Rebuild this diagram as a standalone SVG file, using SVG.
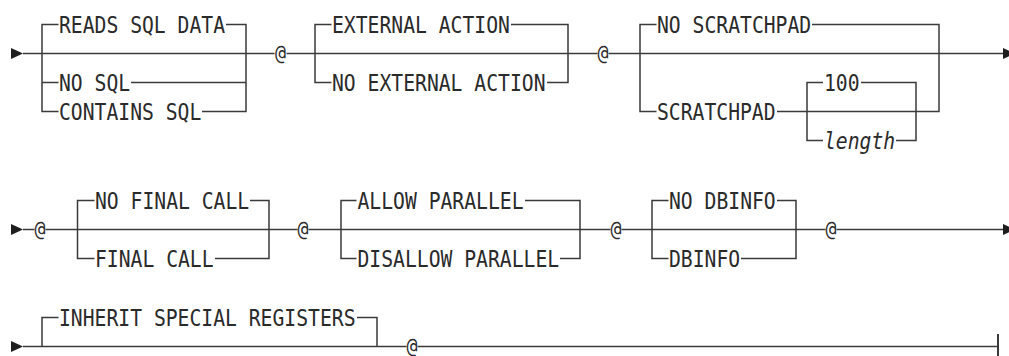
<svg xmlns="http://www.w3.org/2000/svg" width="1009" height="356" viewBox="0 0 1009 356">
<style>
.ln{stroke:#3a3a3a;stroke-width:1.5;fill:none}
.ar{fill:#1e1e1e;stroke:none}
.t{font-family:"DejaVu Sans Mono","Liberation Mono",monospace;font-size:23px;fill:#2a2a2a}
.i{font-style:italic}
.at{font-family:"DejaVu Sans Mono","Liberation Mono",monospace;font-size:22px;fill:#2a2a2a;text-anchor:middle}
</style>
<rect width="1009" height="356" fill="#ffffff"/>
<g id="connectors">
<path class="ln" d="M23,53.5 H274.5 M286.5,53.5 H597.5 M608.5,53.5 H1003"/>
<path class="ln" d="M58.5,24.5 H42 V111.5 H58.5 M42,82.5 H58.5"/>
<path class="ln" d="M226,24.5 H246 V111.5 H202 M131,82.5 H246"/>
<path class="ln" d="M331.5,24.5 H315 V82.5 H331.5"/>
<path class="ln" d="M511,24.5 H568 V82.5 H547"/>
<path class="ln" d="M656.5,24.5 H640 V111.5 H656.5"/>
<path class="ln" d="M812,24.5 H939 V111.5 H777"/>
<path class="ln" d="M823,82.5 H807 V140.5 H823"/>
<path class="ln" d="M861,82.5 H916 V140.5 H896"/>
<polygon class="ar" points="11,48 23,53.5 11,59"/>
<polygon class="ar" points="1003,48 1015,53.5 1003,59"/>
<path class="ln" d="M23,229.5 H34.5 M45.5,229.5 H297.5 M308.5,229.5 H610.5 M621.5,229.5 H825.5 M836.5,229.5 H1003"/>
<path class="ln" d="M94.5,200.5 H77.5 V258.5 H94.5"/>
<path class="ln" d="M250,200.5 H269 V258.5 H215"/>
<path class="ln" d="M356.5,200.5 H341 V258.5 H356.5"/>
<path class="ln" d="M525,200.5 H580 V258.5 H560"/>
<path class="ln" d="M668.5,200.5 H652 V258.5 H668.5"/>
<path class="ln" d="M777,200.5 H796 V258.5 H741"/>
<polygon class="ar" points="11,224 23,229.5 11,235"/>
<polygon class="ar" points="1003,224 1015,229.5 1003,235"/>
<path class="ln" d="M23,346.5 H406.5 M417.5,346.5 H998"/>
<path class="ln" d="M58.5,317.5 H42 V346.5 M357,317.5 H377 V346.5"/>
<polygon class="ar" points="11,341 23,346.5 11,352"/>
<path class="ln" style="stroke-width:2" d="M998,334 V359"/>
</g>
<g id="reads-sql-data"><text class="t" x="59" y="32.5" textLength="166" lengthAdjust="spacingAndGlyphs">READS SQL DATA</text></g>
<g id="no-sql"><text class="t" x="59" y="90.5" textLength="71.2" lengthAdjust="spacingAndGlyphs">NO SQL</text></g>
<g id="contains-sql"><text class="t" x="59" y="119.5" textLength="142.3" lengthAdjust="spacingAndGlyphs">CONTAINS SQL</text></g>
<g id="at-1"><text class="at" x="280.5" y="59.5" textLength="11" lengthAdjust="spacingAndGlyphs">@</text></g>
<g id="external-action"><text class="t" x="332" y="32.5" textLength="177.9" lengthAdjust="spacingAndGlyphs">EXTERNAL ACTION</text></g>
<g id="no-external-action"><text class="t" x="332" y="90.5" textLength="213.5" lengthAdjust="spacingAndGlyphs">NO EXTERNAL ACTION</text></g>
<g id="at-2"><text class="at" x="603" y="59.5" textLength="11" lengthAdjust="spacingAndGlyphs">@</text></g>
<g id="no-scratchpad"><text class="t" x="657" y="32.5" textLength="154.2" lengthAdjust="spacingAndGlyphs">NO SCRATCHPAD</text></g>
<g id="scratchpad"><text class="t" x="657" y="119.5" textLength="118.6" lengthAdjust="spacingAndGlyphs">SCRATCHPAD</text></g>
<g id="default-100"><text class="t" x="824" y="90.5" textLength="35.6" lengthAdjust="spacingAndGlyphs">100</text></g>
<g id="length"><text class="t i" x="824" y="148.5" textLength="71.2" lengthAdjust="spacingAndGlyphs">length</text></g>
<g id="at-3"><text class="at" x="40" y="235.5" textLength="11" lengthAdjust="spacingAndGlyphs">@</text></g>
<g id="no-final-call"><text class="t" x="95" y="208.5" textLength="154.2" lengthAdjust="spacingAndGlyphs">NO FINAL CALL</text></g>
<g id="final-call"><text class="t" x="95" y="266.5" textLength="118.6" lengthAdjust="spacingAndGlyphs">FINAL CALL</text></g>
<g id="at-4"><text class="at" x="303" y="235.5" textLength="11" lengthAdjust="spacingAndGlyphs">@</text></g>
<g id="allow-parallel"><text class="t" x="357.5" y="208.5" textLength="166" lengthAdjust="spacingAndGlyphs">ALLOW PARALLEL</text></g>
<g id="disallow-parallel"><text class="t" x="357.5" y="266.5" textLength="201.6" lengthAdjust="spacingAndGlyphs">DISALLOW PARALLEL</text></g>
<g id="at-5"><text class="at" x="616" y="235.5" textLength="11" lengthAdjust="spacingAndGlyphs">@</text></g>
<g id="no-dbinfo"><text class="t" x="669" y="208.5" textLength="106.7" lengthAdjust="spacingAndGlyphs">NO DBINFO</text></g>
<g id="dbinfo"><text class="t" x="669" y="266.5" textLength="71.2" lengthAdjust="spacingAndGlyphs">DBINFO</text></g>
<g id="at-6"><text class="at" x="831" y="235.5" textLength="11" lengthAdjust="spacingAndGlyphs">@</text></g>
<g id="inherit-special-registers"><text class="t" x="59" y="325.5" textLength="296.5" lengthAdjust="spacingAndGlyphs">INHERIT SPECIAL REGISTERS</text></g>
<g id="at-7"><text class="at" x="412" y="352.5" textLength="11" lengthAdjust="spacingAndGlyphs">@</text></g>
</svg>
